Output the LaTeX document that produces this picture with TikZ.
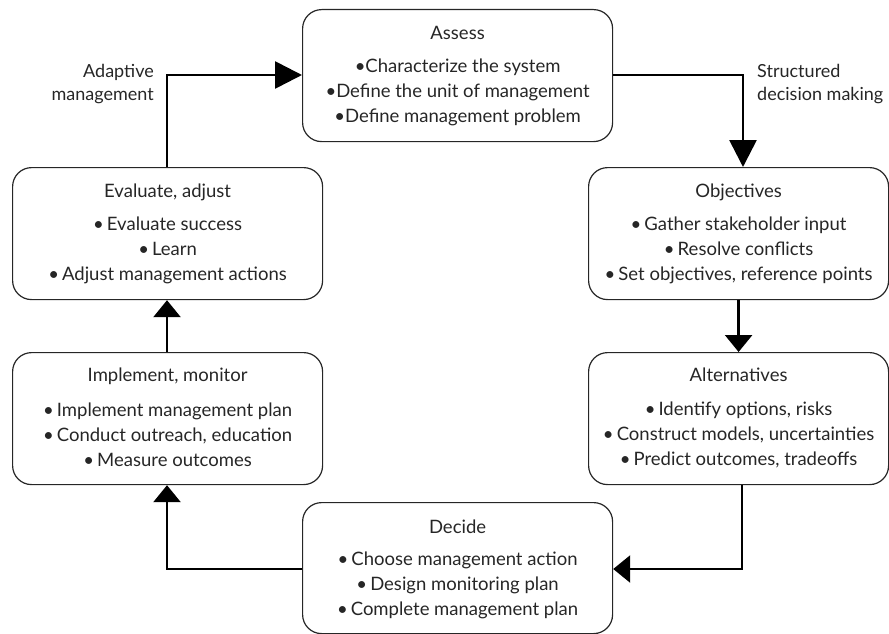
\documentclass[tikz,border=0pt]{standalone}
\usepackage{fontspec}
\setmainfont{Lato}
\usetikzlibrary{arrows.meta}
\begin{document}
\begin{tikzpicture}[x=1pt,y=-1pt,
  box/.style={draw=black!85, line width=1.2pt, rounded corners=19pt, inner sep=0pt, anchor=north west},
  ttl/.style={font=\fontsize{18.5}{25}\selectfont, text=black!85, inner sep=0pt},
  bul/.style={font=\fontsize{18.5}{25}\selectfont, text=black!85, align=center, inner sep=0pt},
  lab/.style={font=\fontsize{18}{23}\selectfont, text=black!85, inner sep=0pt},
  conn/.style={line width=2.7pt, black},
  bigtip/.style={-{Triangle[length=27pt,width=27pt]}},
  smalltip/.style={-{Triangle[length=17pt,width=27pt]}}
]
\useasboundingbox (0,0) rectangle (889,634);
% boxes
\node[box, minimum width=310pt, minimum height=132pt] (assess) at (302,9) {};
\node[box, minimum width=300pt, minimum height=132pt] (obj) at (588,167) {};
\node[box, minimum width=300pt, minimum height=132pt] (alt) at (588,352) {};
\node[box, minimum width=310pt, minimum height=131pt] (decide) at (302,502) {};
\node[box, minimum width=310pt, minimum height=132pt] (impl) at (12,352) {};
\node[box, minimum width=310pt, minimum height=132pt] (eval) at (12,167) {};
% texts
\node[ttl] (assess-t) at ([yshift=-24pt]assess.north) {Assess};
\node[bul] (assess-b) at ([yshift=-83pt]assess.north) {•Characterize the system\\•Define the unit of management\\•Define management problem};
\node[ttl] (obj-t) at ([yshift=-25pt]obj.north) {Objectives};
\node[bul] (obj-b) at ([yshift=-83pt]obj.north) {•\,Gather stakeholder input\\•\,Resolve conflicts\\•\,Set objectives, reference points};
\node[ttl] (alt-t) at ([yshift=-23pt]alt.north) {Alternatives};
\node[bul] (alt-b) at ([yshift=-83pt]alt.north) {•\,Identify options, risks\\•\,Construct models, uncertainties\\•\,Predict outcomes, tradeoffs};
\node[ttl] (decide-t) at ([yshift=-25pt]decide.north) {Decide};
\node[bul] (decide-b) at ([yshift=-83pt]decide.north) {•\,Choose management action\\•\,Design monitoring plan\\•\,Complete management plan};
\node[ttl] (impl-t) at ([yshift=-24pt]impl.north) {Implement, monitor};
\node[bul] (impl-b) at ([yshift=-83pt]impl.north) {•\,Implement management plan\\•\,Conduct outreach, education\\•\,Measure outcomes};
\node[ttl] (eval-t) at ([yshift=-25pt]eval.north) {Evaluate, adjust};
\node[bul] (eval-b) at ([yshift=-83pt]eval.north) {•\,Evaluate success\\•\,Learn\\•\,Adjust management actions};
% labels
\node[lab, align=right, anchor=east] (adapt) at (154,84) {Adaptive\\management};
\node[lab, align=left, anchor=west] (sdm) at (757,84) {Structured\\decision making};
% connectors
\coordinate (c1) at (743,75);
\coordinate (c3) at (742,569);
\coordinate (c4) at (167,569);
\coordinate (c6) at (167,75);
\draw[conn, bigtip] (assess.east |- c1) -- (c1) -- (c1 |- obj.north);
\draw[conn, smalltip] (obj.south) -- (alt.north);
\draw[conn, smalltip] (c3 |- alt.south) -- (c3) -- (decide.east |- c3);
\draw[conn, smalltip] (decide.west |- c4) -- (c4) -- (c4 |- impl.south);
\draw[conn, smalltip] (impl.north -| c4) -- (eval.south -| c4);
\draw[conn, bigtip] (eval.north -| c6) -- (c6) -- (assess.west |- c6);
\end{tikzpicture}
\end{document}
